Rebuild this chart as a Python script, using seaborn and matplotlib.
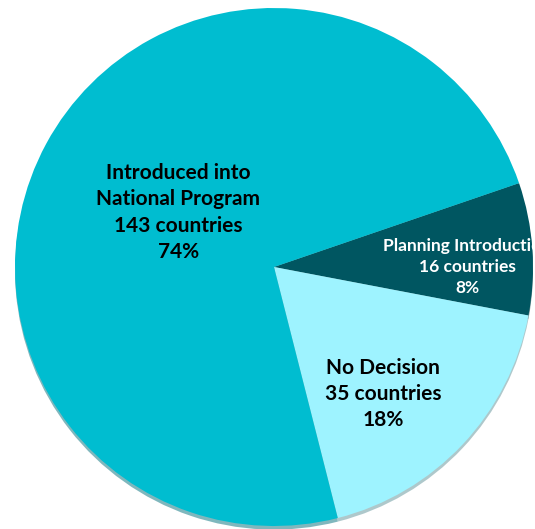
import matplotlib
matplotlib.use("Agg")
import matplotlib.pyplot as plt
import seaborn as sns

# status data (clockwise from upper right)
status = ["Planning Introduction", "No Decision", "Introduced into\nNational Program"]
countries = [16, 35, 143]
percents = [8, 18, 74]
colors = ["#005661", "#9EF3FF", "#00BDD0"]
text_colors = ["white", "black", "black"]
label_pos = [(0.745, 0.0), (0.42, -0.49), (-0.37, 0.21)]
font_sizes = [12.5, 15, 15]

sns.set_style("white")
plt.rcParams['font.family'] = ['Lato', 'DejaVu Sans']

fig = plt.figure(figsize=(5.35, 5.29), dpi=100)
ax = fig.add_axes([0, 0, 1, 1])
ax.pie(countries, colors=colors, startangle=18.9, counterclock=False,
       radius=1, center=(0, 0),
       shadow={'ox': 0.0, 'oy': -0.01, 'shade': 0.4},
       wedgeprops={'linewidth': 0})

for name, n, p, c, pos, fs in zip(status, countries, percents, text_colors,
                                  label_pos, font_sizes):
    ax.text(pos[0], pos[1], f"{name}\n{n} countries\n{p}%", ha='center',
            va='center', color=c, fontsize=fs, fontweight='bold',
            linespacing=1.4, clip_on=False)

ax.set_xlim(-274 / 259, 261 / 259)
ax.set_ylim(-262 / 259, 267 / 259)
ax.set_aspect('auto')
ax.axis('off')

plt.savefig("out.png", dpi=100)
